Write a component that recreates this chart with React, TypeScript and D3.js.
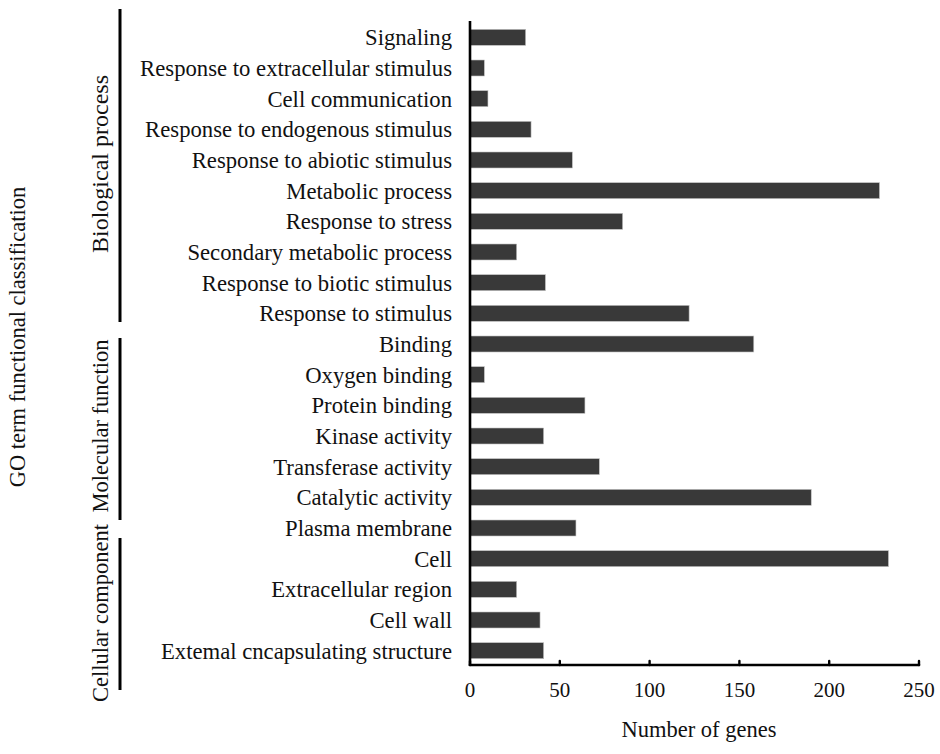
import React from "react";
import * as d3 from "d3";

const categories = [
  "Signaling",
  "Response to extracellular stimulus",
  "Cell communication",
  "Response to endogenous stimulus",
  "Response to abiotic stimulus",
  "Metabolic process",
  "Response to stress",
  "Secondary metabolic process",
  "Response to biotic stimulus",
  "Response to stimulus",
  "Binding",
  "Oxygen binding",
  "Protein binding",
  "Kinase activity",
  "Transferase activity",
  "Catalytic activity",
  "Plasma membrane",
  "Cell",
  "Extracellular region",
  "Cell wall",
  "Extemal cncapsulating structure",
];

const values = [31, 8, 10, 34, 57, 228, 85, 26, 42, 122, 158, 8, 64, 41, 72, 190, 59, 233, 26, 39, 41];

const xTicks = [0, 50, 100, 150, 200, 250];

const groupNames = ["Biological process", "Molecular function", "Cellular component"];
const groupY0 = [9, 338, 538];
const groupY1 = [322, 520, 690];
const groupLabelY = [164, 426, 613];
const groupFont = [24, 22.5, 22.5];

const W = 940;
const H = 754;
const FONT = "'Liberation Serif', 'Times New Roman', serif";

export default function App() {
  const x = d3.scaleLinear().domain([0, 250]).range([470, 919]);
  const y = d3.scaleBand<string>().domain(categories).range([22, 666]).paddingInner(0.478).paddingOuter(0.239);
  const axisY = 665;

  return (
    <svg
      width={W}
      height={H}
      style={{ position: "absolute", left: 0, top: 0, background: "#fff" }}
      fontFamily={FONT}
    >
      {categories.map((c, i) => (
        <rect
          key={c}
          x={x(0)}
          y={y(c)!}
          width={x(values[i]) - x(0)}
          height={y.bandwidth()}
          fill="#393939"
          stroke="#c4c4c4"
          strokeWidth={0.6}
        />
      ))}
      {categories.map((c) => (
        <text
          key={"l" + c}
          x={452}
          y={y(c)! + y.bandwidth() / 2}
          dy="0.35em"
          textAnchor="end"
          fontSize={22.7}
          fill="#111"
        >
          {c}
        </text>
      ))}
      <line x1={x(0)} x2={x(0)} y1={21} y2={axisY + 1} stroke="#000" strokeWidth={2.6} />
      <line x1={x(0)} x2={x(250)} y1={axisY} y2={axisY} stroke="#000" strokeWidth={2.6} strokeLinecap="round" />
      {xTicks.map((t) => (
        <g key={"t" + t}>
          <line x1={x(t)} x2={x(t)} y1={axisY} y2={axisY - 4} stroke="#000" strokeWidth={2.4} strokeLinecap="round" />
          <text x={x(t)} y={697} textAnchor="middle" fontSize={21} fill="#111">
            {t}
          </text>
        </g>
      ))}
      <text x={699} y={737} textAnchor="middle" fontSize={22.5} fill="#111">
        Number of genes
      </text>
      {groupNames.map((g, i) => (
        <g key={g}>
          <line x1={120} x2={120} y1={groupY0[i]} y2={groupY1[i]} stroke="#000" strokeWidth={3} />
          <text
            transform={`translate(108,${groupLabelY[i]}) rotate(-90)`}
            textAnchor="middle"
            fontSize={groupFont[i]}
            fill="#111"
          >
            {g}
          </text>
        </g>
      ))}
      <text transform={`translate(25,337) rotate(-90)`} textAnchor="middle" fontSize={22.5} fill="#111">
        GO term functional classification
      </text>
    </svg>
  );
}
